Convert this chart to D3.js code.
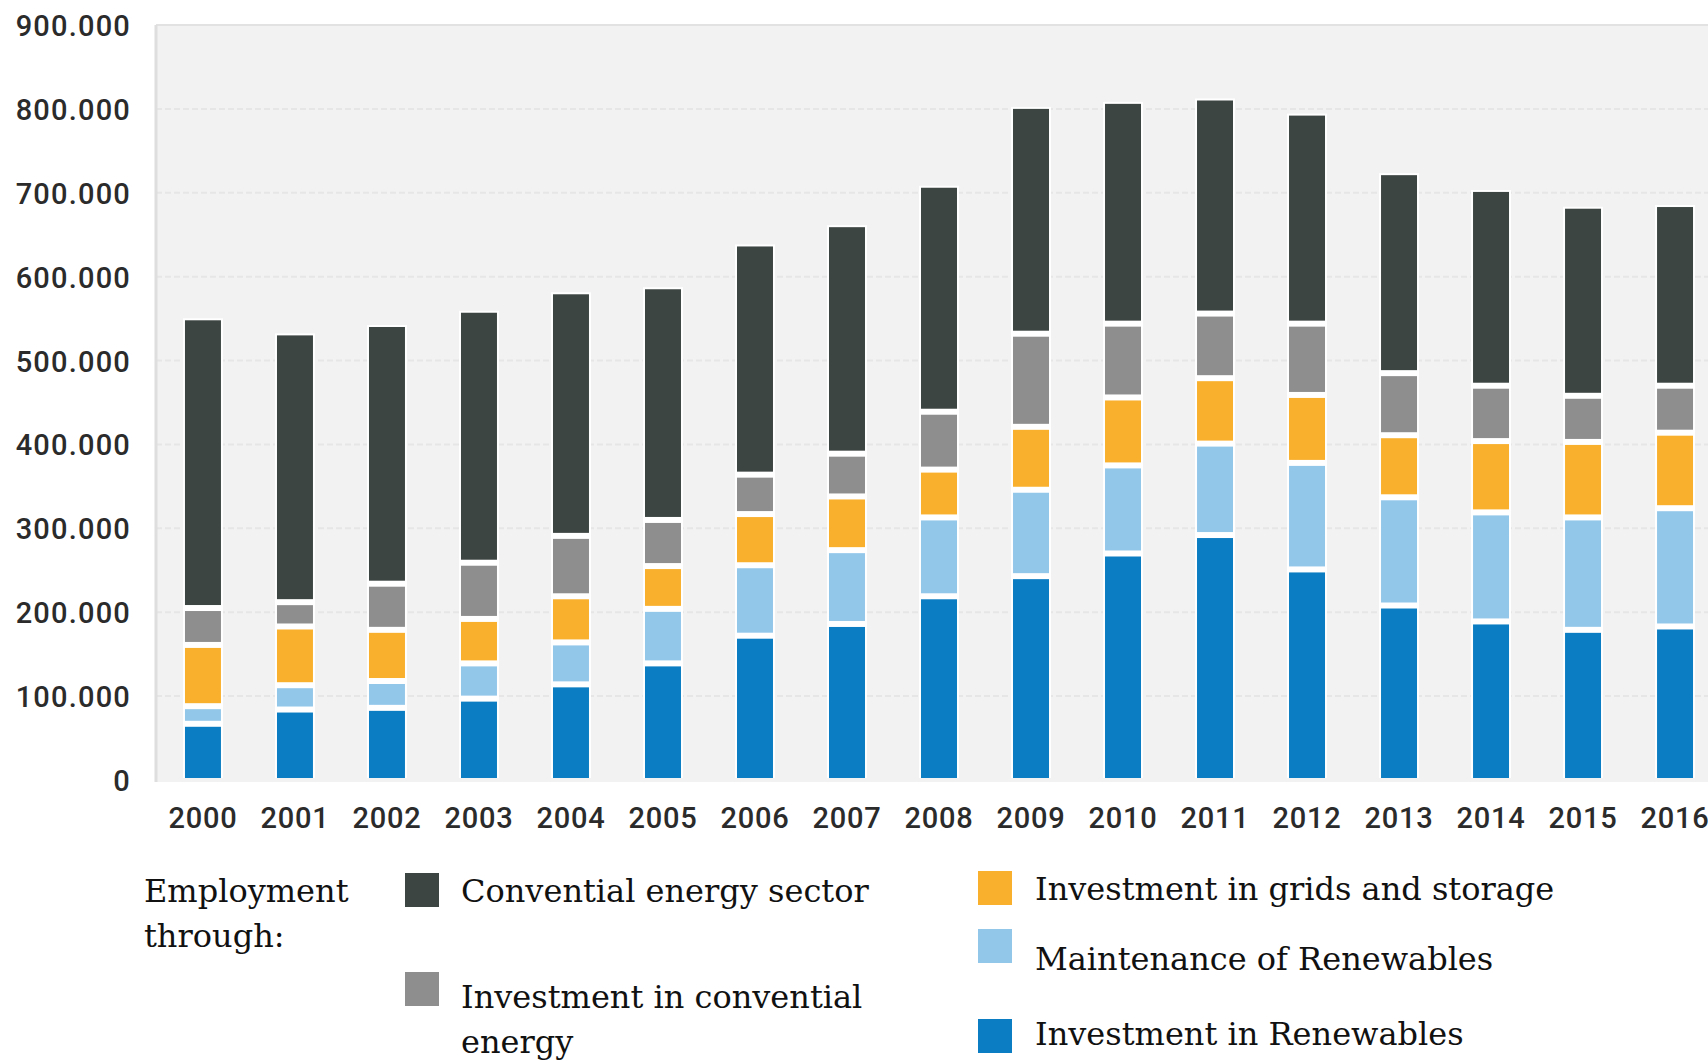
<!DOCTYPE html>
<html lang="en">
<head>
    <meta charset="UTF-8">
    <title>Employment in the energy sector</title>
    <script src="https://d3js.org/d3.v7.min.js"></script>
    <style>
        body { margin: 0; background: #fff; }
        .tick-y, .tick-x { font-family: Roboto, sans-serif; font-weight: 500; fill: #2b2b2b; }
        .legend text { font-family: "DejaVu Serif", serif; fill: #111; }
    </style>
</head>
<body>
    <svg width="1708" height="1061"></svg>
    <script>
        // data (thousands of jobs)
        const years = ["2000", "2001", "2002", "2003", "2004", "2005", "2006", "2007", "2008",
                       "2009", "2010", "2011", "2012", "2013", "2014", "2015", "2016"];
        const renewInvest  = [67, 84, 86, 97, 114, 139, 172, 186, 219, 243, 270, 292, 251, 208, 189, 179, 183];
        const renewMaint   = [21, 29, 32, 42, 50, 65, 84, 88, 94, 103, 105, 109, 127, 129, 130, 134, 141];
        const grids        = [73, 70, 61, 53, 55, 51, 61, 64, 57, 75, 81, 78, 81, 74, 85, 90, 90];
        const convInvest   = [44, 29, 55, 67, 72, 55, 47, 51, 69, 111, 88, 77, 85, 74, 66, 55, 56];
        const conventional = [343, 318, 306, 298, 288, 275, 272, 270, 267, 268, 262, 254, 248, 236, 231, 223, 213];
        const yTicks = [0, 100000, 200000, 300000, 400000, 500000, 600000, 700000, 800000, 900000];

        const seriesKeys = ["renewInvest", "renewMaint", "grids", "convInvest", "conventional"];
        const seriesLabels = {
            conventional: ["Convential energy sector"],
            convInvest: ["Investment in convential", "energy"],
            grids: ["Investment in grids and storage"],
            renewMaint: ["Maintenance of Renewables"],
            renewInvest: ["Investment in Renewables"]
        };
        const colors = {
            renewInvest: "#0b7dc2",
            renewMaint: "#93c7ea",
            grids: "#f9b02d",
            convInvest: "#8e8e8e",
            conventional: "#3d4542"
        };

        const table = years.map((y, i) => ({
            year: y,
            renewInvest: renewInvest[i] * 1000,
            renewMaint: renewMaint[i] * 1000,
            grids: grids[i] * 1000,
            convInvest: convInvest[i] * 1000,
            conventional: conventional[i] * 1000
        }));

        const svg = d3.select("svg");
        const plot = {left: 156, top: 25, bottom: 780, right: 1708};

        const x = d3.scaleBand()
            .domain(years)
            .range([plot.left, 1722])
            .paddingInner(0.609)
            .paddingOuter(0.315);

        const y = d3.scaleLinear()
            .domain([0, 900000])
            .range([plot.bottom, plot.top]);

        const de = d3.formatLocale({decimal: ",", thousands: ".", grouping: [3], currency: ["", "€"]});
        const fmt = de.format(",");

        // plot background
        svg.append("rect")
            .attr("x", plot.left).attr("y", plot.top)
            .attr("width", plot.right - plot.left).attr("height", plot.bottom + 2 - plot.top)
            .attr("fill", "#f2f2f2");

        // gridlines
        svg.append("g").selectAll("line")
            .data(yTicks.filter(d => d > 0))
            .join("line")
            .attr("x1", plot.left).attr("x2", plot.right)
            .attr("y1", d => y(d)).attr("y2", d => y(d))
            .attr("stroke", d => d === 900000 ? "#e2e2e2" : "#e6e6e6")
            .attr("stroke-width", 2)
            .attr("stroke-dasharray", d => d === 900000 ? null : "6,3");

        // left axis line
        svg.append("line")
            .attr("x1", plot.left).attr("x2", plot.left)
            .attr("y1", plot.top).attr("y2", plot.bottom + 2)
            .attr("stroke", "#dedede").attr("stroke-width", 3);

        // y axis labels
        const yAxis = d3.axisLeft(y).tickValues(yTicks).tickFormat(fmt).tickSize(0).tickPadding(0);
        const gy = svg.append("g").attr("transform", "translate(131,0)").call(yAxis);
        gy.select(".domain").remove();
        gy.selectAll("text")
            .attr("class", "tick-y")
            .attr("font-size", 29)
            .attr("letter-spacing", 1.2)
            .attr("dy", "0.36em");

        // x axis labels
        const xAxis = d3.axisBottom(x).tickSize(0).tickPadding(0);
        const gx = svg.append("g").attr("transform", "translate(0,828)").call(xAxis);
        gx.select(".domain").remove();
        gx.selectAll("text")
            .attr("class", "tick-x")
            .attr("font-size", 29)
            .attr("letter-spacing", 0.8)
            .attr("dy", 0);

        // stacked bars
        const stacked = d3.stack().keys(seriesKeys)(table);
        const last = seriesKeys.length - 1;
        const gap = 3;

        // white halo behind each stack
        svg.append("g").selectAll("rect")
            .data(stacked[last])
            .join("rect")
            .attr("x", d => x(d.data.year) - 2)
            .attr("width", x.bandwidth() + 4)
            .attr("y", d => y(d[1]) - 2)
            .attr("height", d => y(0) - y(d[1]))
            .attr("fill", "#ffffff");

        svg.append("g").selectAll("g")
            .data(stacked)
            .join("g")
            .attr("fill", d => colors[d.key])
            .each(function (s) {
                const idx = s.index;
                d3.select(this).selectAll("rect")
                    .data(s)
                    .join("rect")
                    .attr("x", d => x(d.data.year))
                    .attr("width", x.bandwidth())
                    .attr("y", d => y(d[1]) + (idx === last ? 0 : gap))
                    .attr("height", d => (y(d[0]) - (idx === 0 ? 2 : gap)) - (y(d[1]) + (idx === last ? 0 : gap)));
            });

        // legend
        const legend = svg.append("g").attr("class", "legend");
        legend.append("text").attr("x", 144).attr("y", 902).attr("font-size", 32).text("Employment");
        legend.append("text").attr("x", 144).attr("y", 947).attr("font-size", 32).text("through:");

        const legendItems = [
            {key: "conventional", sx: 405, sy: 873, tx: 461, ty: 902},
            {key: "convInvest", sx: 405, sy: 972, tx: 461, ty: 1008},
            {key: "grids", sx: 978, sy: 871, tx: 1035, ty: 900},
            {key: "renewMaint", sx: 978, sy: 929, tx: 1035, ty: 970},
            {key: "renewInvest", sx: 978, sy: 1019, tx: 1035, ty: 1045}
        ];
        legendItems.forEach(it => {
            legend.append("rect")
                .attr("x", it.sx).attr("y", it.sy)
                .attr("width", 34).attr("height", 34)
                .attr("fill", colors[it.key]);
            seriesLabels[it.key].forEach((line, j) => {
                legend.append("text")
                    .attr("x", it.tx).attr("y", it.ty + j * 45)
                    .attr("font-size", 32)
                    .text(line);
            });
        });
    </script>
</body>
</html>
